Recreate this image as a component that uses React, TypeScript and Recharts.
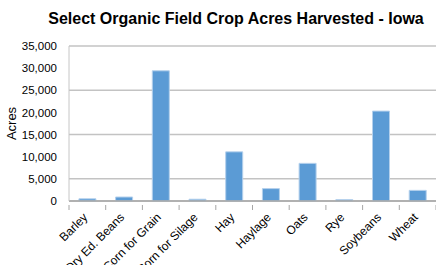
import { BarChart, Bar, XAxis, YAxis, CartesianGrid } from 'recharts';

const crops = [
  'Barley',
  'Dry Ed. Beans',
  'Corn for Grain',
  'Corn for Silage',
  'Hay',
  'Haylage',
  'Oats',
  'Rye',
  'Soybeans',
  'Wheat',
];
const acres = [500, 900, 29400, 400, 11100, 2800, 8500, 300, 20300, 2400];
const yTicks = [0, 5000, 10000, 15000, 20000, 25000, 30000, 35000];

const chartData = crops.map((crop, i) => ({ crop, acres: acres[i] }));

const W = 436;
const H = 265;
const PLOT_LEFT = 69;
const BAND = (W - PLOT_LEFT) / crops.length;

// label rotated like excel, plus a tick mark at the band boundary
function CropTick(props: any) {
  const { x, y, payload, index } = props;
  const left = x - BAND / 2;
  return (
    <g>
      <line x1={left} y1={y - 4} x2={left} y2={y + 1} stroke="#a6a6a6" />
      {index === crops.length - 1 && (
        <line x1={x + BAND / 2} y1={y - 4} x2={x + BAND / 2} y2={y + 1} stroke="#a6a6a6" />
      )}
      <text
        x={x + 1}
        y={y + 9}
        textAnchor="end"
        transform={`rotate(-45, ${x + 1}, ${y + 9})`}
        fontSize={12}
        fill="#000"
        fontFamily="Liberation Sans, Arial, sans-serif"
      >
        {payload.value}
      </text>
    </g>
  );
}

export default function App() {
  return (
    <div style={{ position: 'relative', width: W, height: H, background: '#fff', overflow: 'hidden' }}>
      <style>{`body{margin:0}`}</style>
      <div
        style={{
          position: 'absolute',
          top: 10,
          left: 0,
          width: W,
          paddingLeft: 36,
          boxSizing: 'border-box',
          textAlign: 'center',
          fontFamily: 'Liberation Sans, Arial, sans-serif',
          fontWeight: 'bold',
          fontSize: 16,
          color: '#000',
          whiteSpace: 'nowrap',
        }}
      >
        Select Organic Field Crop Acres Harvested - Iowa
      </div>
      <BarChart
        width={W}
        height={H}
        data={chartData}
        margin={{ top: 46, right: 0, left: 0, bottom: 0 }}
        barCategoryGap="27%"
      >
        <CartesianGrid vertical={false} stroke="#c3c3c3" strokeWidth={1.5} />
        <XAxis
          dataKey="crop"
          interval={0}
          height={64}
          tickLine={false}
          axisLine={{ stroke: '#a6a6a6', strokeWidth: 1.5 }}
          tick={<CropTick />}
        />
        <YAxis
          width={PLOT_LEFT}
          domain={[0, 35000]}
          ticks={yTicks}
          tickFormatter={(v: number) => v.toLocaleString('en-US')}
          tickLine={false}
          axisLine={{ stroke: '#c6c6c6' }}
          tick={{ fill: '#000', fontSize: 11.5, fontFamily: 'Liberation Sans, Arial, sans-serif' }}
          tickMargin={6}
          label={{
            value: 'Acres',
            angle: -90,
            position: 'insideLeft',
            offset: 11,
            style: { fill: '#000', fontSize: 13, fontFamily: 'Liberation Sans, Arial, sans-serif', textAnchor: 'middle' },
          }}
        />
        <Bar
          dataKey="acres"
          fill="#5b9bd5"
          stroke="#b4d0ec"
          strokeWidth={1}
          isAnimationActive={false}
        />
      </BarChart>
    </div>
  );
}
